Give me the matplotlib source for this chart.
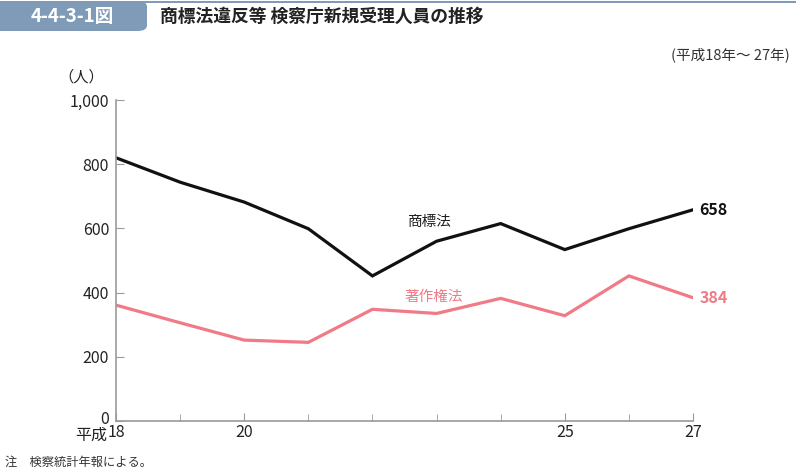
import matplotlib.pyplot as plt
import matplotlib.transforms as mtransforms
from matplotlib.patches import FancyBboxPatch, Rectangle

plt.rcParams['font.family'] = ['Noto Sans CJK JP', 'DejaVu Sans']

years = [18, 19, 20, 21, 22, 23, 24, 25, 26, 27]
trademark = [820, 744, 682, 599, 452, 560, 615, 534, 599, 658]
copyright_ = [361, 306, 252, 245, 348, 335, 382, 328, 452, 384]
xtick_pos = [18, 20, 25, 27]
xtick_labels = ['18', '20', '25', '27']
yticks = [0, 200, 400, 600, 800, 1000]

header = '#7f9bb8'
pink = '#f07a85'
axis_gray = '#9a9a9a'
txt = '#222222'

W, H = 796, 469
fig = plt.figure(figsize=(W / 100, H / 100), dpi=100)

# header bar
fig.patches.append(Rectangle((0, 1 - 3 / H), 1, 2 / H, transform=fig.transFigure,
                             color=header, lw=0))
fig.patches.append(FancyBboxPatch((-10 / W, 1 - 31 / H), 157 / W, 30 / H,
                                  boxstyle='round,pad=0,rounding_size=0.012',
                                  transform=fig.transFigure, color=header, lw=0))
fig.text(72 / W, 1 - 16 / H, '4-4-3-1図', color='white', fontsize=13.5,
         fontweight='bold', ha='center', va='center')
fig.text(160 / W, 1 - 17 / H, '商標法違反等 検察庁新規受理人員の推移', fontsize=12.8,
         fontweight='bold', ha='left', va='center', color=txt)
fig.text(790 / W, 1 - 55 / H, '(平成18年～ 27年)', fontsize=10.5, ha='right', va='center',
         color='#333333')
fig.text(5 / W, 1 - 462 / H, '注　検察統計年報による。', fontsize=8.8, ha='left', va='center',
         color='#333333')

ax = fig.add_axes([116 / W, 1 - 421 / H, (693 - 116) / W, (421 - 100) / H])
ax.plot(years, trademark, color='#111111', lw=2.3, solid_joinstyle='miter')
ax.plot(years, copyright_, color=pink, lw=2.3, solid_joinstyle='miter')

ax.set_xlim(18, 27)
ax.set_ylim(0, 1000)
ax.set_yticks(yticks)
ax.set_yticklabels([f'{v:,}' for v in yticks], fontsize=11.5, color=txt)
ax.set_xticks(years, minor=True)
ax.set_xticks(xtick_pos)
ax.set_xticklabels(xtick_labels, fontsize=11.5, color=txt)
ax.tick_params(axis='both', which='major', direction='in', length=6, color=axis_gray)
ax.tick_params(axis='y', which='major', pad=5)
ax.tick_params(axis='x', which='major', pad=2)
ax.tick_params(axis='x', which='minor', direction='in', length=5, color=axis_gray)
for s in ['top', 'right']:
    ax.spines[s].set_visible(False)
for s in ['left', 'bottom']:
    ax.spines[s].set_color(axis_gray)
    ax.spines[s].set_linewidth(1.2)
# lift the "0" label a little so it clears the era label
zero = ax.get_yticklabels()[0]
zero.set_transform(zero.get_transform() + mtransforms.ScaledTranslation(0, 4 / 100, fig.dpi_scale_trans))

ax.text(-9 / 577, -0.045, '平成', transform=ax.transAxes, fontsize=11.5,
        ha='right', va='center', color=txt)
ax.text(-0.02, 1.07, '（人）', transform=ax.transAxes, fontsize=11, ha='right',
        va='center', color=txt)
ax.text(22.9, 620, '商標法', fontsize=10.5, ha='center', va='center', color=txt)
ax.text(22.95, 385, '著作権法', fontsize=10.5, ha='center', va='center', color=pink)
ax.text(27.1, trademark[-1], f'{trademark[-1]}', fontsize=11.5, fontweight='bold',
        ha='left', va='center', color='#111111', clip_on=False)
ax.text(27.1, copyright_[-1], f'{copyright_[-1]}', fontsize=11.5, fontweight='bold',
        ha='left', va='center', color=pink, clip_on=False)

fig.savefig('out.png', dpi=100)
